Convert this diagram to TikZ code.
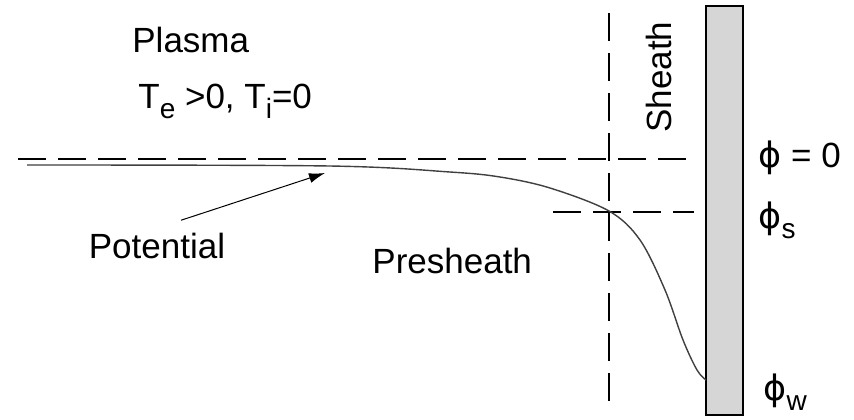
\documentclass[tikz,border=0pt]{standalone}
\usepackage{fontspec}
\setmainfont{Liberation Sans}
\newfontfamily\greekfont{DejaVu Sans}
\usepackage{tikz}
\usetikzlibrary{positioning,arrows.meta}
\newcommand{\lowsub}[1]{\raisebox{-0.3em}{\fontsize{14}{14}\selectfont #1}}
\newcommand{\phisym}{{\greekfont ϕ}}

\begin{document}
\begin{tikzpicture}[x=0.5pt,y=-0.5pt,
    txt/.style={font=\fontsize{17.5}{21}\selectfont, inner sep=0pt},
    guide/.style={line width=0.75pt, dash pattern=on 14pt off 6pt},
    wall/.style={draw, line width=1pt, fill=black!16},
    potline/.style={line width=0.7pt, black!75},
    potarrow/.style={-{Latex[length=8pt,width=5pt]}, line width=0.5pt}]
	\useasboundingbox (0,0) rectangle (854,419);
	\fill[white] (0,0) rectangle (854,419);
	
	\draw[wall] (706,6) rectangle (743,415);
	
	\coordinate (zeroL) at (18,159);
	\coordinate (zeroR) at (695,159);
	\coordinate (sL) at (553,212);
	\coordinate (sR) at (694,212);
	\coordinate (edgeT) at (609,13);
	\coordinate (edgeB) at (609,412);
	\coordinate (potTip) at (325,173);
	
	\draw[guide] (zeroL) -- (zeroR);
	\draw[guide] (sL) -- (sR);
	\draw[guide] (edgeT) -- (edgeB);
	
	\draw[potline] plot[smooth, tension=0.55] coordinates {(27,165) (330,166) (450,172) (500,177) (550,188) (609,211) (640,240) (665,290) (683,340) (697,370) (706,380)};
	
	\node[txt, anchor=base west] (plasma) at (132,52) {Plasma};
	\node[txt, anchor=base west] (temps) at (138,108) {T\lowsub{e} >0, T\lowsub{i}=0};
	\node[txt, anchor=base] (pot) at (157,258) {Potential};
	\node[txt, anchor=base west] (presheath) at (372,273) {Presheath};
	\node[txt, anchor=base west, rotate=90] (sheath) at (671,133) {Sheath};
	\node[txt, anchor=base west] (phizero) at (758,167) {\phisym{} = 0};
	\node[txt, anchor=base west] (phis) at (758,228) {\phisym\lowsub{s}};
	\node[txt, anchor=base west] (phiw) at (763,400) {\phisym\lowsub{w}};
	
	\draw[potarrow] ([xshift=12pt,yshift=6pt]pot.north) -- (potTip);
\end{tikzpicture}
\end{document}
